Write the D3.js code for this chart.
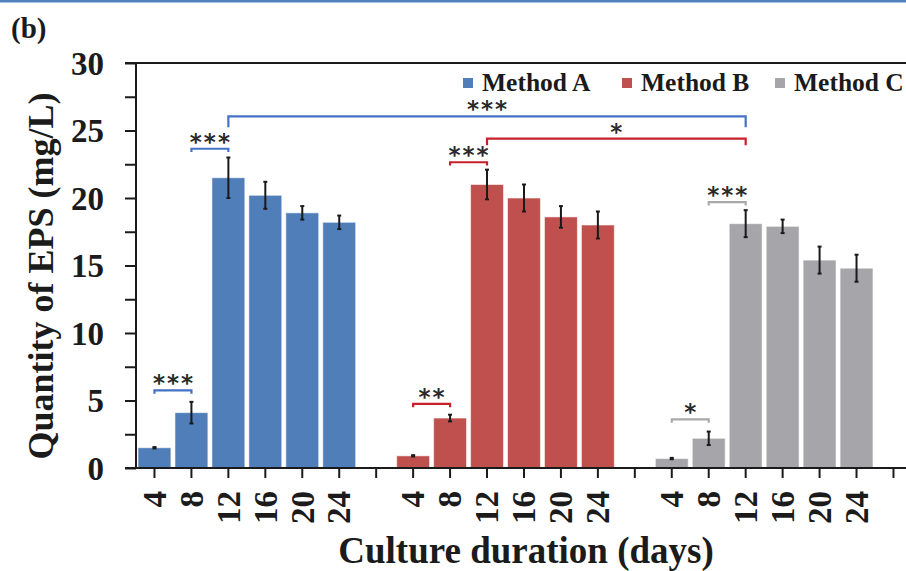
<!DOCTYPE html>
<html>
<head>
<meta charset="utf-8">
<script src="https://cdn.jsdelivr.net/npm/d3@7/dist/d3.min.js"></script>
<style>
  html, body { margin: 0; padding: 0; background: #fff; overflow: hidden; }
  svg { display: block; }
</style>
</head>
<body>
<svg id="chart" width="906" height="571"></svg>
<script>
// Culture durations (days) shown on the x axis for each method
const days = ["4", "8", "12", "16", "20", "24"];
const methods = ["Method A", "Method B", "Method C"];
const methodKeys = ["A", "B", "C"];

// EPS quantity (mg/L) and error (± mg/L) per method
const methodA = [1.5, 4.1, 21.5, 20.2, 18.9, 18.2];
const errorA  = [0.05, 0.8, 1.5, 1.0, 0.5, 0.5];
const methodB = [0.9, 3.7, 21.0, 20.0, 18.6, 18.0];
const errorB  = [0.05, 0.25, 1.1, 1.0, 0.8, 1.0];
const methodC = [0.7, 2.2, 18.1, 17.9, 15.4, 14.8];
const errorC  = [0.05, 0.5, 1.0, 0.5, 1.0, 1.0];

// Y axis ticks (mg/L)
const yMajorTicks = [0, 5, 10, 15, 20, 25, 30];
const yMinorTicks = [2.5, 7.5, 12.5, 17.5, 22.5, 27.5];

// Significance brackets: from/to slots, bar height level (mg/L), foot level, label
const brackets = [
  { from: "A-4",  to: "A-8",  level: 5.75,  foot: 5.5,   label: "***", m: 0 },
  { from: "A-8",  to: "A-12", level: 23.65, foot: 23.4,  label: "***", m: 0 },
  { from: "A-12", to: "C-12", level: 26.05, foot: 25.25, label: "***", m: 0 },
  { from: "B-4",  to: "B-8",  level: 4.75,  foot: 4.5,   label: "**",  m: 1 },
  { from: "B-8",  to: "B-12", level: 22.65, foot: 22.4,  label: "***", m: 1 },
  { from: "B-12", to: "C-12", level: 24.4,  foot: 23.9,  label: "*",   m: 1 },
  { from: "C-4",  to: "C-8",  level: 3.6,   foot: 3.35,  label: "*",   m: 2 },
  { from: "C-8",  to: "C-12", level: 19.7,  foot: 19.45, label: "***", m: 2 }
];

const barColors = ["#4F7EB9", "#C0504D", "#A6A6AA"];
const bracketColors = ["#4472C4", "#C8202A", "#A9A9AB"];
const serif = "'Liberation Serif', 'Times New Roman', serif";
const ink = "#1b1b1b";

const values = [methodA, methodB, methodC];
const errors = [errorA, errorB, errorC];

// Slots along the x axis: six days per method, an empty slot after each group
const slots = [];
methodKeys.forEach((k, mi) => {
  days.forEach(d => slots.push(k + "-" + d));
  slots.push("gap-" + mi);
});

const records = [];
methodKeys.forEach((k, mi) => {
  days.forEach((d, di) => {
    records.push({ slot: k + "-" + d, day: d, m: mi, v: values[mi][di], e: errors[mi][di] });
  });
});

const svg = d3.select("#chart");

const x0 = 136, yTop = 63, yBottom = 468;
const x = d3.scaleBand()
  .domain(slots)
  .range([x0, x0 + 36.95 * slots.length])
  .paddingInner(0.11)
  .paddingOuter(0.055);
const cx = s => x(s) + x.bandwidth() / 2;

const y = d3.scaleLinear().domain([0, 30]).range([yBottom, yTop]);

// Blue rule across the top of the figure
svg.append("rect").attr("x", 0).attr("y", 0).attr("width", 906).attr("height", 2.5).attr("fill", "#4F81BD");

// Panel label
svg.append("text")
  .attr("x", 11).attr("y", 38)
  .attr("font-family", serif).attr("font-weight", "bold").attr("font-size", 29)
  .attr("fill", ink)
  .text("(b)");

// Bars
svg.append("g").selectAll("rect")
  .data(records)
  .join("rect")
  .attr("x", d => x(d.slot))
  .attr("y", d => y(d.v))
  .attr("width", x.bandwidth())
  .attr("height", d => y(0) - y(d.v))
  .attr("fill", d => barColors[d.m])
  .attr("stroke", "rgba(255,255,255,0.55)")
  .attr("stroke-width", 1);

// Error bars
const eb = svg.append("g").attr("stroke", "#1a1a1a").attr("stroke-width", 2);
records.forEach(d => {
  const c = cx(d.slot);
  eb.append("line").attr("x1", c).attr("x2", c).attr("y1", y(d.v + d.e)).attr("y2", y(d.v - d.e));
  eb.append("line").attr("x1", c - 2).attr("x2", c + 2).attr("y1", y(d.v + d.e)).attr("y2", y(d.v + d.e));
  eb.append("line").attr("x1", c - 2).attr("x2", c + 2).attr("y1", y(d.v - d.e)).attr("y2", y(d.v - d.e));
});

// Y axis
const yAxis = d3.axisLeft(y)
  .tickValues(yMajorTicks.concat(yMinorTicks))
  .tickSize(11)
  .tickPadding(21)
  .tickFormat(v => yMajorTicks.includes(v) ? d3.format("d")(v) : "");
const gy = svg.append("g").attr("transform", `translate(${x0},0)`).call(yAxis);
gy.select(".domain").remove();
gy.selectAll(".tick line").attr("stroke", ink).attr("stroke-width", 2);
gy.selectAll(".tick text")
  .attr("font-family", serif).attr("font-weight", "bold").attr("font-size", 33)
  .attr("fill", ink).attr("dy", "0.34em");
svg.append("line").attr("x1", x0).attr("x2", x0).attr("y1", yTop - 1).attr("y2", yBottom + 1)
  .attr("stroke", ink).attr("stroke-width", 2);
// Top frame line
svg.append("line").attr("x1", x0 - 11).attr("x2", 906).attr("y1", yTop).attr("y2", yTop)
  .attr("stroke", ink).attr("stroke-width", 2);

// X axis
const xAxis = d3.axisBottom(x)
  .tickSize(10)
  .tickFormat(s => s.startsWith("gap") ? "" : s.split("-")[1]);
const gx = svg.append("g").attr("transform", `translate(0,${yBottom})`).call(xAxis);
gx.select(".domain").remove();
gx.selectAll(".tick line").attr("stroke", ink).attr("stroke-width", 2);
gx.selectAll(".tick text")
  .attr("font-family", serif).attr("font-weight", "bold").attr("font-size", 33)
  .attr("fill", ink)
  .attr("text-anchor", "end")
  .attr("transform", "rotate(-90)")
  .attr("x", -23).attr("y", 0).attr("dy", "0.34em");
svg.append("line").attr("x1", x0 - 11).attr("x2", 906).attr("y1", yBottom).attr("y2", yBottom)
  .attr("stroke", ink).attr("stroke-width", 2);

// Significance brackets with their star labels
const starSpacing = 2;
const bg = svg.append("g");
brackets.forEach(b => {
  const xa = cx(b.from), xb = cx(b.to);
  const yl = y(b.level), yf = y(b.foot);
  bg.append("path")
    .attr("d", `M${xa},${yf}V${yl}H${xb}V${yf}`)
    .attr("fill", "none")
    .attr("stroke", bracketColors[b.m])
    .attr("stroke-width", 2.2);
  bg.append("text")
    .attr("x", (xa + xb) / 2 + starSpacing / 2)
    .attr("y", yl + 1)
    .attr("text-anchor", "middle")
    .attr("font-family", "'DejaVu Sans', sans-serif").attr("font-weight", "bold")
    .attr("font-size", 23)
    .attr("letter-spacing", starSpacing)
    .attr("fill", "#2a2a2a")
    .text(b.label);
});

// Legend
const legendX = [463, 622, 775];
const lg = svg.append("g");
methods.forEach((name, i) => {
  lg.append("rect").attr("x", legendX[i]).attr("y", 78).attr("width", 10).attr("height", 10)
    .attr("fill", barColors[i]);
  lg.append("text").attr("x", legendX[i] + 19).attr("y", 91)
    .attr("font-family", serif).attr("font-weight", "bold").attr("font-size", 25.5)
    .attr("fill", ink)
    .text(name);
});

// Axis titles
svg.append("text")
  .attr("transform", "translate(53,276) rotate(-90)")
  .attr("text-anchor", "middle")
  .attr("font-family", serif).attr("font-weight", "bold").attr("font-size", 36)
  .attr("fill", ink)
  .text("Quantity of EPS (mg/L)");

svg.append("text")
  .attr("x", 526).attr("y", 563)
  .attr("text-anchor", "middle")
  .attr("font-family", serif).attr("font-weight", "bold").attr("font-size", 37)
  .attr("fill", ink)
  .text("Culture duration (days)");
</script>
</body>
</html>
